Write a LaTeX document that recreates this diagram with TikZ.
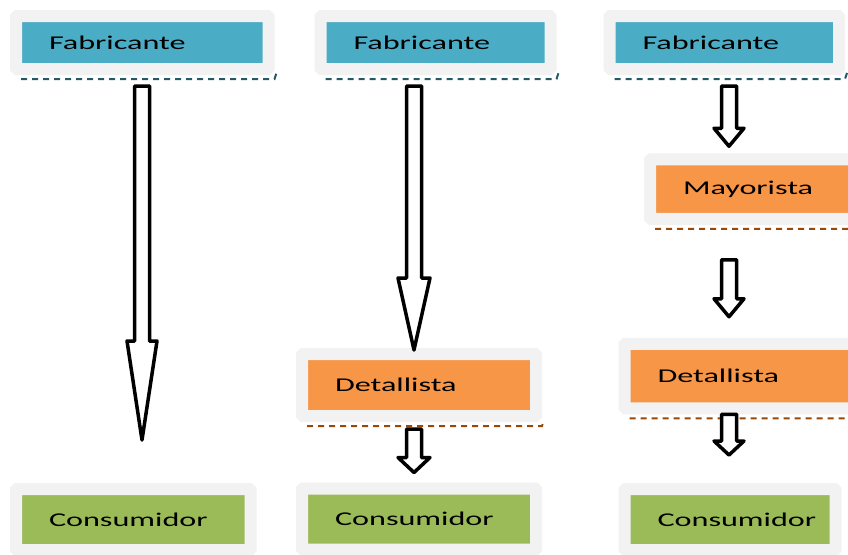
\documentclass[tikz,border=0pt]{standalone}
\usepackage{fontspec}
\usepackage{xcolor}
\usetikzlibrary{calc}

\newfontfamily\etiq{Carlito}[FakeStretch=1.65]
\hyphenpenalty=10000

\definecolor{marco}{HTML}{F2F2F2}
\definecolor{azul}{HTML}{4BACC6}
\definecolor{naranja}{HTML}{F79646}
\definecolor{verde}{HTML}{9BBB59}
\definecolor{azulosc}{HTML}{215968}
\definecolor{naranjaosc}{HTML}{984807}
\definecolor{verdeosc}{HTML}{4F6228}

\tikzset{
    etapa/.style n args={3}{draw=marco, line width=12pt, rounded corners=1pt,
        fill=#1, text width=#2, minimum height=#3, inner xsep=33pt, inner ysep=0pt,
        align=left, text=black, font=\etiq\fontsize{19.5}{20}\selectfont},
    flecha/.style={draw=black, fill=white, line width=3.5pt, line join=round},
}

% dashed rim under a box
\newcommand{\sombra}[2]{%
    \draw[#2, line width=2pt, dash pattern=on 6pt off 5pt]
        ([shift={(11,4)}]#1.south west) -- ([shift={(0,4)}]#1.south east)
        -- ([shift={(2,-2)}]#1.south east);
}
% hollow block arrow: from, to, head length, head half width
\newcommand{\flecha}[4]{%
    \draw[flecha] let \p1=#1, \p2=#2 in
        (\x1-7.5pt,\y1) -- (\x1+7.5pt,\y1) -- (\x1+7.5pt,\y2+#3) -- (\x1+#4,\y2+#3)
        -- (\x1,\y2) -- (\x1-#4,\y2+#3) -- (\x1-7.5pt,\y2+#3) -- cycle;
}

\begin{document}
\begin{tikzpicture}[x=1pt,y=-1pt]
    \useasboundingbox (0,0) rectangle (848,554);
    \fill[white] (0,0) rectangle (848,554);
    \clip (0,0) rectangle (848,554);

    % canal directo
    \node[etapa={azul}{186.5pt}{53pt}] (fab1) at (142.25,42.5) {Fabricante};
    \node[etapa={verde}{168.5pt}{61pt}] (con1) at (133.25,519.5) {Consumidor};

    % canal corto
    \node[etapa={azul}{164pt}{53pt}] (fab2) at (435.5,42.5) {Fabricante};
    \node[etapa={naranja}{168pt}{62pt}] (det2) at (419,385) {Detallista};
    \node[etapa={verde}{168pt}{61pt}] (con2) at (419,519) {Consumidor};

    % canal largo
    \node[etapa={azul}{163.5pt}{53pt}] (fab3) at (724.25,42.5) {Fabricante};
    \node[etapa={naranja}{159pt}{59.5pt}] (may3) at (762.5,189) {Mayorista};
    \node[etapa={naranja}{174pt}{64.5pt}] (det3) at (744.5,376) {Detallista};
    \node[etapa={verde}{145pt}{61pt}] (con3) at (730,519.5) {Consumidor};

    \sombra{fab1}{azulosc}
    \sombra{fab2}{azulosc}
    \sombra{fab3}{azulosc}
    \sombra{det2}{naranjaosc}
    \sombra{may3}{naranjaosc}
    \sombra{det3}{naranjaosc}
    \sombra{con1}{verdeosc}
    \sombra{con2}{verdeosc}
    \sombra{con3}{verdeosc}

    \coordinate (eje1) at (142,0);
    \coordinate (eje2) at (414,0);
    \coordinate (eje3) at (729,0);

    \flecha{($(eje1 |- fab1.south)+(0,11)$)}{($(eje1 |- con1.north)+(0,-43)$)}{99pt}{15pt}
    \flecha{($(eje2 |- fab2.south)+(0,11)$)}{($(eje2 |- det2.north)+(0,2)$)}{72pt}{16pt}
    \flecha{($(eje2 |- det2.south)+(0,7)$)}{($(eje2 |- con2.north)+(0,-10)$)}{15pt}{16pt}
    \flecha{($(eje3 |- fab3.south)+(0,11)$)}{($(eje3 |- may3.north)+(0,-7)$)}{18pt}{15pt}
    \flecha{($(eje3 |- may3.south)+(0,35)$)}{($(eje3 |- det3.north)+(0,-21)$)}{18pt}{15pt}
    \flecha{($(eje3 |- det3.south)+(0,0)$)}{($(eje3 |- con3.north)+(0,-28)$)}{14pt}{15pt}
\end{tikzpicture}
\end{document}
